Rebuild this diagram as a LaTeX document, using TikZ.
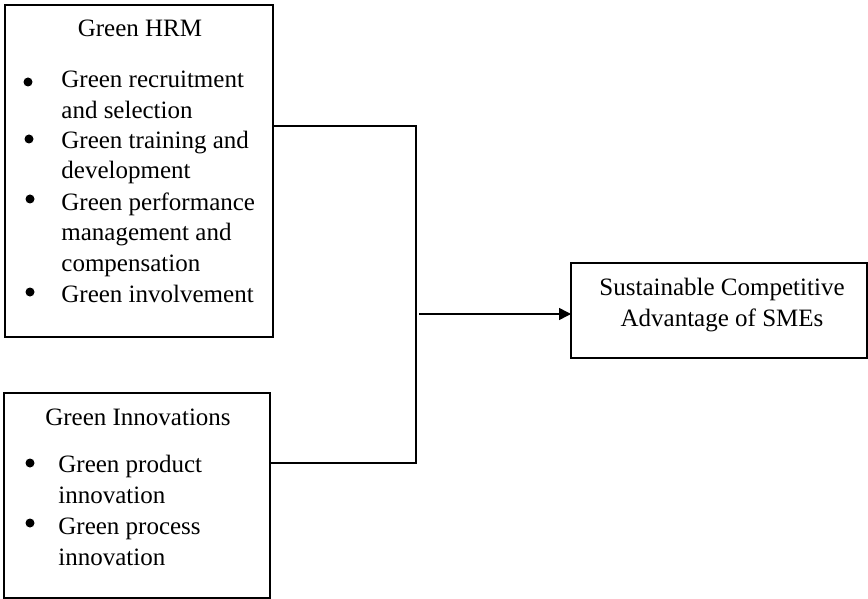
\documentclass[tikz,border=0pt]{standalone}
\usepackage{fontspec}
\setmainfont{Liberation Serif}
\usepackage{xcolor}
\definecolor{cLine}{HTML}{000000}
\usetikzlibrary{positioning,arrows.meta}
\tikzset{
  node-box/.style={draw=cLine,line width=0.8pt,inner sep=0pt,outer sep=0pt},
  node-text/.style={inner sep=0pt,align=left,
    font=\fontsize{12.5}{15.25}\selectfont},
  node-head/.style={node-text,anchor=base},
  % multi-line nodes sit on the baseline of their last line
  node-item/.style={node-text,anchor=base west},
  node-dot/.style={circle,fill=cLine,inner sep=0pt,minimum size=4.5pt},
  link/.style={line width=0.8pt,draw=cLine},
  arrow/.style={-{Triangle[length=6pt,width=6pt]},line width=0.8pt,draw=cLine},
}

\begin{document}
\begin{tikzpicture}[x=0.5pt,y=-0.5pt]
  \useasboundingbox (0,0) rectangle (868,599);

  % Green HRM
  \node[node-box,minimum width=134pt,minimum height=166pt] (hrm) at (139,171) {};
  \node[node-head] (hrm-t) at (140,37) {Green HRM};
  \node[node-dot] (hrm-d1) at (28,82) {};
  \node[node-item] (hrm-i1) at (61,118.5) {Green recruitment\\and selection};
  \node[node-dot] (hrm-d2) at (29,139) {};
  \node[node-item] (hrm-i2) at (61,178.5) {Green training and\\development};
  \node[node-dot] (hrm-d3) at (30,199) {};
  \node[node-item] (hrm-i3) at (61,271) {Green performance\\management and\\compensation};
  \node[node-dot] (hrm-d4) at (30,292) {};
  \node[node-item] (hrm-i4) at (61,302) {Green involvement};

  % Green Innovations
  \node[node-box,minimum width=133pt,minimum height=102.5pt] (inn) at (137,495.5) {};
  \node[node-head] (inn-t) at (138,425) {Green Innovations};
  \node[node-dot] (inn-d1) at (30,463) {};
  \node[node-item] (inn-i1) at (58,503) {Green product\\innovation};
  \node[node-dot] (inn-d2) at (30,523) {};
  \node[node-item] (inn-i2) at (58,565) {Green process\\innovation};

  % outcome
  \node[node-box,minimum width=148pt,minimum height=47.5pt] (sca) at (719,310.5) {};
  \node[node-text,align=center,anchor=base] (sca-t) at (722,326)
    {Sustainable Competitive\\Advantage of SMEs};

  % connectors
  \coordinate (j1) at (416,126);
  \coordinate (j2) at (416,463);
  \coordinate (jm) at (419,314);
  \draw[link] (hrm.east |- j1) -- (j1) -- (j2) -- (inn.east |- j2);
  \draw[arrow] (jm) -- (sca.west |- jm);
\end{tikzpicture}
\end{document}
